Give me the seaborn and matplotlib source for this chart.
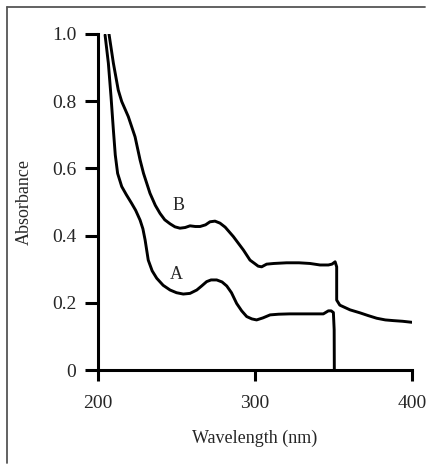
import numpy as np
import pandas as pd
import seaborn as sns
import matplotlib
matplotlib.use("Agg")
import matplotlib.pyplot as plt
from matplotlib.lines import Line2D

# Curve A (lower)
wl_a = [204.5, 206.6, 208.3, 209.8, 211.0, 212.5, 215.1, 218.0, 221.4, 224.0, 226.8, 228.6,
        230.0, 232.0, 234.5, 237.4, 241.5, 245.9, 250.0, 254.3, 258.6, 262.9, 266.0, 269.2,
        272.0, 275.6, 279.0, 282.0, 285.0, 288.3, 291.5, 294.7, 298.0, 301.0, 305.0, 309.6,
        315.0, 322.0, 328.7, 336.0, 343.5, 346.7, 348.5, 349.9, 350.4, 350.5]
abs_a = [0.997, 0.913, 0.813, 0.714, 0.640, 0.585, 0.546, 0.522, 0.496, 0.475, 0.446, 0.420,
         0.387, 0.327, 0.295, 0.273, 0.252, 0.238, 0.230, 0.226, 0.228, 0.238, 0.250, 0.263,
         0.268, 0.268, 0.262, 0.250, 0.230, 0.198, 0.176, 0.159, 0.152, 0.149, 0.155, 0.164,
         0.166, 0.167, 0.167, 0.167, 0.167, 0.176, 0.176, 0.171, 0.120, 0.0]

# Curve B (upper)
wl_b = [207.0, 209.8, 212.9, 215.1, 219.3, 223.6, 226.8, 229.0, 233.1, 236.5, 239.5, 242.5,
        245.9, 249.0, 252.2, 255.5, 258.6, 262.0, 265.0, 268.5, 271.3, 274.5, 277.7, 281.0,
        286.2, 292.6, 296.8, 300.0, 302.0, 304.2, 307.4, 312.0, 320.1, 328.0, 335.0, 341.4,
        346.7, 349.0, 351.0, 352.0, 352.0, 354.0, 360.5, 366.9, 372.0, 377.5, 383.0, 388.0,
        394.0, 399.8]
abs_b = [1.0, 0.913, 0.833, 0.799, 0.754, 0.694, 0.625, 0.585, 0.526, 0.490, 0.466, 0.447,
         0.435, 0.426, 0.422, 0.424, 0.429, 0.427, 0.427, 0.432, 0.441, 0.443, 0.437, 0.425,
         0.397, 0.357, 0.327, 0.316, 0.309, 0.307, 0.315, 0.317, 0.319, 0.319, 0.317, 0.3125,
         0.3125, 0.315, 0.322, 0.307, 0.208, 0.193, 0.179, 0.170, 0.162, 0.154, 0.149, 0.147,
         0.145, 0.142]

x_ticks = [200, 300, 400]
y_ticks = [0, 0.2, 0.4, 0.6, 0.8, 1.0]
y_labels = ["0", "0.2", "0.4", "0.6", "0.8", "1.0"]

sns.set_theme(style="ticks")
plt.rcParams['font.family'] = ['Liberation Serif', 'DejaVu Serif']

fig = plt.figure(figsize=(4.27, 4.65), dpi=100)
ax = fig.add_axes([0.2295, 0.2043, 0.965 - 0.2295, 0.927 - 0.2043])

df_a = pd.DataFrame({"wl": wl_a, "abs": abs_a})
df_b = pd.DataFrame({"wl": wl_b, "abs": abs_b})
for d in (df_a, df_b):
    sns.lineplot(data=d, x="wl", y="abs", sort=False, estimator=None, color="black",
                 lw=2.1, ax=ax)
for ln in ax.lines:
    ln.set_solid_joinstyle("round")
    ln.set_solid_capstyle("round")

ax.set_xlim(200, 400)
ax.set_ylim(0, 1.0)
ax.set_xticks(x_ticks)
ax.set_xticklabels([str(v) for v in x_ticks])
ax.set_yticks(y_ticks)
ax.set_yticklabels(y_labels)
for s in ["top", "right"]:
    ax.spines[s].set_visible(False)
for s in ["left", "bottom"]:
    ax.spines[s].set_linewidth(2.2)
    ax.spines[s].set_color("black")
ax.tick_params(axis="y", length=9.5, width=2.2, color="black", labelsize=14, pad=6)
ax.tick_params(axis="x", length=8, width=2.2, color="black", labelsize=14, pad=10)
ax.set_xlabel("Wavelength (nm)", fontsize=13, labelpad=13)
ax.set_ylabel("Absorbance", fontsize=13, labelpad=14)

ax.text(251, 0.49, "B", fontsize=13, ha="center", va="center")
ax.text(250, 0.283, "A", fontsize=13, ha="center", va="center")

# figure frame (top and left)
fig.add_artist(Line2D([7/427, 0.995], [1 - 7/465, 1 - 7/465], transform=fig.transFigure,
                      color="#555555", lw=1.3))
fig.add_artist(Line2D([7/427, 7/427], [1 - 7/465, 2/465], transform=fig.transFigure,
                      color="#555555", lw=1.3))

fig.savefig("out.png", dpi=100, facecolor="white")
